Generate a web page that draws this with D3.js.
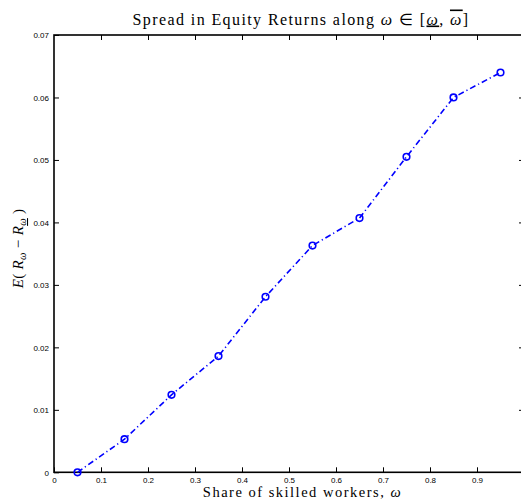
<!DOCTYPE html>
<html>
<head>
<meta charset="utf-8">
<script src="https://cdn.jsdelivr.net/npm/d3@7"></script>
<style>
  html, body { margin: 0; padding: 0; background: #fff; }
  svg { display: block; }
  .tick text { font-family: "Liberation Sans", Arial, sans-serif; font-size: 8px; fill: #000; }
  .serif { font-family: "Liberation Serif", "Times New Roman", serif; }
</style>
</head>
<body>
<svg id="chart" width="521" height="501"></svg>
<script>
// Share of skilled workers and the resulting expected return spread
const omega = [0.05, 0.15, 0.25, 0.35, 0.45, 0.55, 0.65, 0.75, 0.85, 0.95];
const spread = [0.0000, 0.0053, 0.0124, 0.0186, 0.0281, 0.0363, 0.0407, 0.0505, 0.0600, 0.0640];
const xTicks = [0, 0.1, 0.2, 0.3, 0.4, 0.5, 0.6, 0.7, 0.8, 0.9, 1];
const yTicks = [0, 0.01, 0.02, 0.03, 0.04, 0.05, 0.06, 0.07];

const svg = d3.select("#chart");
const m = { left: 54, right: 524, top: 35, bottom: 472.3 };

const x = d3.scaleLinear().domain([0, 1]).range([m.left, m.right]);
const y = d3.scaleLinear().domain([0, 0.07]).range([m.bottom, m.top]);

const fmtX = d => (d === 0 ? "0" : d3.format(".1f")(d));
const fmtY = d => (d === 0 ? "0" : d3.format(".2f")(d));
const tickLen = 5;

// bottom axis with inward ticks
const gx = svg.append("g").attr("transform", `translate(0,${m.bottom})`)
  .call(d3.axisBottom(x).tickValues(xTicks.slice(0, -1)).tickFormat(fmtX).tickSize(-tickLen));
// top mirror ticks
const gxt = svg.append("g").attr("transform", `translate(0,${m.top})`)
  .call(d3.axisTop(x).tickValues(xTicks.slice(1, -1)).tickFormat("").tickSize(-tickLen));
// left axis
const gy = svg.append("g").attr("transform", `translate(${m.left},0)`)
  .call(d3.axisLeft(y).tickValues(yTicks).tickFormat(fmtY).tickSize(-tickLen).tickPadding(5));
// right mirror ticks
const gyr = svg.append("g").attr("transform", `translate(${m.right},0)`)
  .call(d3.axisRight(y).tickValues(yTicks.slice(1, -1)).tickFormat("").tickSize(-tickLen));

[gx, gxt, gy, gyr].forEach(g => {
  g.select(".domain").remove();
  g.selectAll(".tick line").attr("stroke", "#000").attr("stroke-width", 1);
});
gy.selectAll(".tick text").attr("x", -5).attr("dy", "0.35em");
gx.selectAll(".tick text").attr("y", 11).attr("dy", 0);

// axes box
svg.append("rect")
  .attr("x", m.left).attr("y", m.top)
  .attr("width", m.right - m.left).attr("height", m.bottom - m.top)
  .attr("fill", "none").attr("stroke", "#000").attr("stroke-width", 1.6);

// dash-dot series line
const line = d3.line().x((d, i) => x(omega[i])).y(d => y(d));
svg.append("path")
  .datum(spread)
  .attr("d", line)
  .attr("fill", "none")
  .attr("stroke", "#0000ff")
  .attr("stroke-width", 1.6)
  .attr("stroke-dasharray", "6,3,1.2,3");

// circle markers
svg.append("g").selectAll("circle")
  .data(spread)
  .join("circle")
  .attr("cx", (d, i) => x(omega[i]))
  .attr("cy", d => y(d))
  .attr("r", 3.3)
  .attr("fill", "none")
  .attr("stroke", "#0000ff")
  .attr("stroke-width", 1.6);

// title
const title = svg.append("text").attr("class", "serif")
  .attr("x", 301).attr("y", 24.5)
  .attr("text-anchor", "middle")
  .attr("font-size", 16)
  .attr("letter-spacing", 1.4);
title.append("tspan").text("Spread in Equity Returns along ");
title.append("tspan").attr("font-style", "italic").text("ω");
title.append("tspan").text(" ∈ [");
title.append("tspan").attr("font-style", "italic").style("text-decoration", "underline").text("ω");
title.append("tspan").text(", ");
title.append("tspan").attr("font-style", "italic").style("text-decoration", "overline").text("ω");
title.append("tspan").text("]");

// x label
const xl = svg.append("text").attr("class", "serif")
  .attr("x", 302.5).attr("y", 497)
  .attr("text-anchor", "middle")
  .attr("font-size", 14.5)
  .attr("letter-spacing", 1.5);
xl.append("tspan").text("Share of skilled workers, ");
xl.append("tspan").attr("font-style", "italic").text("ω");

// y label
const yl = svg.append("text").attr("class", "serif")
  .attr("transform", "translate(23,248.5) rotate(-90)")
  .attr("text-anchor", "middle")
  .attr("font-size", 15)
  .attr("letter-spacing", 0.3);
yl.append("tspan").attr("font-style", "italic").text("E");
yl.append("tspan").text("( ");
yl.append("tspan").attr("font-style", "italic").text("R");
yl.append("tspan").attr("font-style", "italic").attr("font-size", 10.5).attr("dy", 3).text("ω");
yl.append("tspan").attr("dy", -3).text(" − ");
yl.append("tspan").attr("font-style", "italic").text("R");
yl.append("tspan").attr("font-style", "italic").attr("font-size", 10.5).attr("dy", 3)
  .style("text-decoration", "underline").text("ω");
yl.append("tspan").attr("dy", -3).text(" )");
</script>
</body>
</html>
